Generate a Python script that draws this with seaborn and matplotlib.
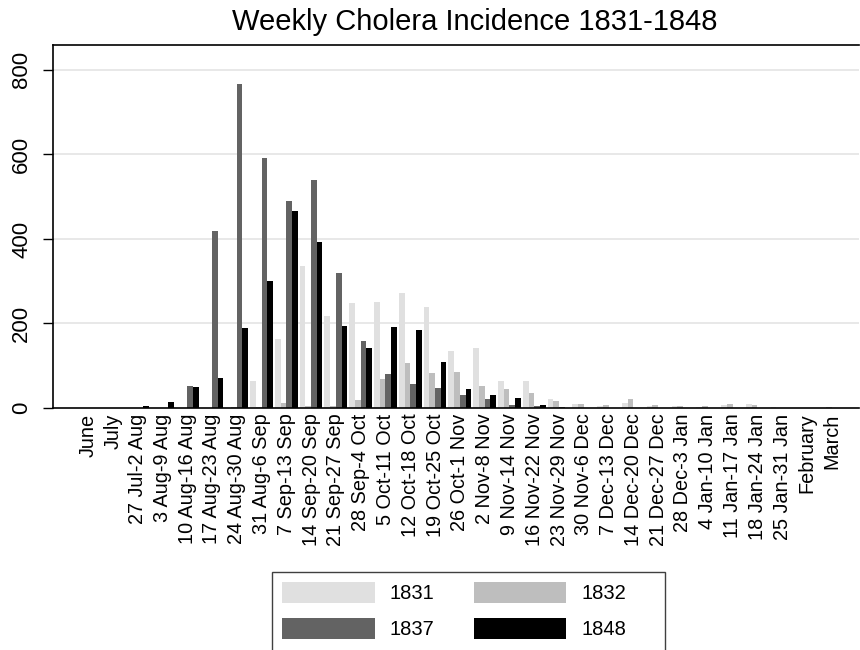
import pandas as pd
import matplotlib
matplotlib.use("Agg")
import matplotlib.pyplot as plt
import seaborn as sns
from matplotlib.patches import Patch, Rectangle

weeks = ["June", "July", "27 Jul-2 Aug", "3 Aug-9 Aug", "10 Aug-16 Aug",
         "17 Aug-23 Aug", "24 Aug-30 Aug", "31 Aug-6 Sep", "7 Sep-13 Sep",
         "14 Sep-20 Sep", "21 Sep-27 Sep", "28 Sep-4 Oct", "5 Oct-11 Oct",
         "12 Oct-18 Oct", "19 Oct-25 Oct", "26 Oct-1 Nov", "2 Nov-8 Nov",
         "9 Nov-14 Nov", "16 Nov-22 Nov", "23 Nov-29 Nov", "30 Nov-6 Dec",
         "7 Dec-13 Dec", "14 Dec-20 Dec", "21 Dec-27 Dec", "28 Dec-3 Jan",
         "4 Jan-10 Jan", "11 Jan-17 Jan", "18 Jan-24 Jan", "25 Jan-31 Jan",
         "February", "March"]

c1831 = [0, 0, 0, 0, 0, 0, 0, 65, 164, 337, 218, 249, 252, 272, 240, 136,
         142, 65, 63, 22, 10, 5, 12, 5, 5, 2, 8, 10, 3, 1, 0]
c1832 = [0, 0, 0, 0, 0, 0, 2, 2, 12, 5, 4, 20, 69, 106, 84, 86,
         53, 44, 35, 16, 9, 7, 22, 8, 5, 5, 10, 7, 1, 0, 2]
c1837 = [0, 0, 0, 0, 53, 418, 767, 592, 491, 539, 319, 159, 81, 57, 47, 30,
         22, 8, 5, 3, 0, 0, 0, 0, 0, 0, 0, 0, 0, 0, 0]
c1848 = [0, 0, 5, 15, 50, 71, 189, 301, 467, 392, 193, 143, 191, 185, 108, 46,
         31, 24, 6, 1, 0, 0, 0, 0, 0, 0, 0, 0, 0, 0, 0]

years = ["1831", "1832", "1837", "1848"]
colors = ["#e0e0e0", "#bebebe", "#636363", "#000000"]

df = pd.DataFrame({"week": weeks, "1831": c1831, "1832": c1832,
                   "1837": c1837, "1848": c1848})
df = df.melt(id_vars="week", var_name="year", value_name="cases")

sns.set_style("white")
plt.rcParams["font.family"] = ["Liberation Sans", "DejaVu Sans"]
plt.rcParams["text.color"] = "black"
plt.rcParams["xtick.color"] = "black"
plt.rcParams["ytick.color"] = "black"

fig = plt.figure(figsize=(8.6, 6.5), dpi=100)
ax = fig.add_axes([53 / 860, 1 - 408 / 650, 806 / 860, 363 / 650])

sns.barplot(data=df, x="week", y="cases", hue="year", hue_order=years,
            palette=colors, width=0.92, saturation=1, linewidth=0,
            legend=False, ax=ax)

ax.set_xlim(-1.41, 31.1)
ax.set_ylim(0, 859)
ax.set_yticks([0, 200, 400, 600, 800])
ax.set_xlabel("")
ax.set_ylabel("")
for y in [200, 400, 600, 800]:
    ax.axhline(y, color="#e4e4e4", lw=1.2, zorder=0)

ax.tick_params(axis="x", length=0, pad=4, labelsize=14.3, labelrotation=90,
               labelcolor="black")
ax.tick_params(axis="y", length=7, width=1, pad=8, labelsize=16, left=True,
               color="black", labelcolor="black")
for lab in ax.get_yticklabels():
    lab.set_rotation(90)
    lab.set_va("center")

for side in ["left", "top", "bottom"]:
    ax.spines[side].set_color("black")
    ax.spines[side].set_linewidth(1.2)
ax.spines["right"].set_visible(False)

fig.text(475 / 860, 1 - 22 / 650, "Weekly Cholera Incidence 1831-1848",
         ha="center", va="center", fontsize=21, color="black")

# row-wise legend order: 1831 1832 / 1837 1848
order = [0, 2, 1, 3]
handles = [Patch(facecolor=colors[i], edgecolor="none") for i in order]
labels = [years[i] for i in order]
leg = fig.legend(handles, labels, ncol=2, fontsize=14.5,
                 loc="upper left",
                 bbox_to_anchor=(272 / 860, 1 - 572 / 650),
                 frameon=False, borderaxespad=0,
                 handlelength=4.6, handleheight=1.25, handletextpad=0.75,
                 labelspacing=0.7, borderpad=0.5, columnspacing=1.95)

# legend box, wider than the entries as in the original
fig.add_artist(Rectangle((272 / 860, 1 - 660 / 650), 393 / 860, 88 / 650,
                         transform=fig.transFigure, fill=False,
                         edgecolor="#404040", linewidth=1.0))

fig.savefig("out.png", dpi=100)
